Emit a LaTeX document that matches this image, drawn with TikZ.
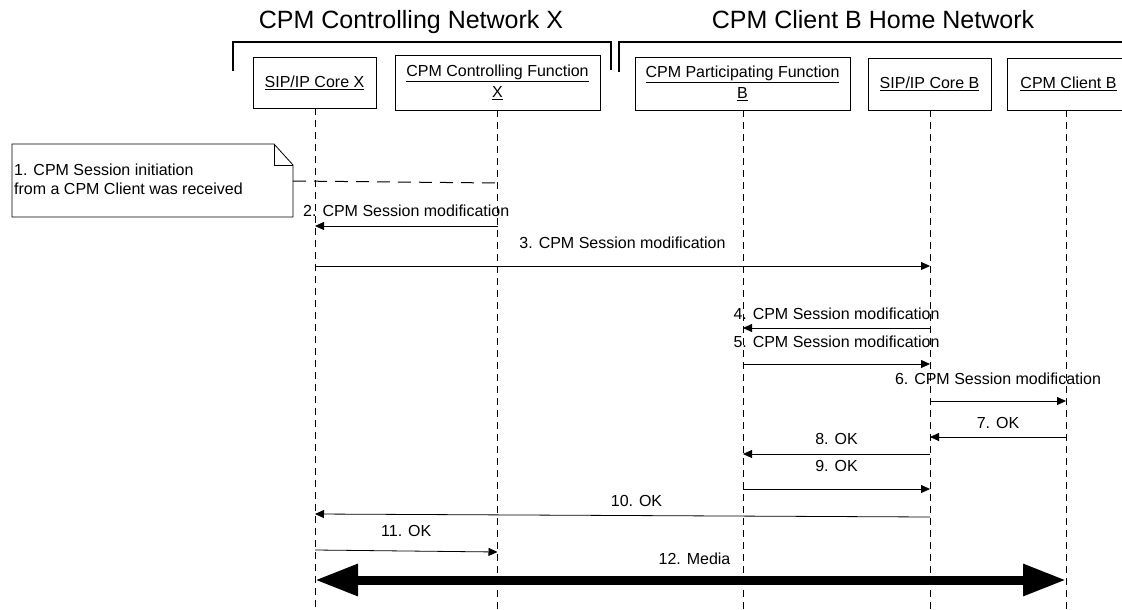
\documentclass[tikz,border=0pt]{standalone}
\usepackage{fontspec}
\setmainfont{Liberation Sans}
\usetikzlibrary{arrows.meta}
\begin{document}
\begin{tikzpicture}[x=1pt,y=-1pt,
  ent/.style={draw, line width=0.8pt, align=center, font=\fontsize{16}{21}\selectfont, inner sep=0pt},
  life/.style={line width=0.6pt, dash pattern=on 7pt off 5pt},
  msg/.style={line width=0.8pt, -{Triangle[length=9pt,width=8pt]}},
  lbl/.style={font=\fontsize{16}{19}\selectfont, anchor=base, inner sep=0pt},
  notetxt/.style={font=\fontsize{16}{19}\selectfont, anchor=base west, inner sep=0pt},
  brk/.style={line width=1.3pt},
  ttl/.style={font=\fontsize{25}{30}\selectfont, anchor=base, inner sep=0pt},
  media/.style={line width=9pt, {Triangle[length=43pt,width=30pt]}-{Triangle[length=43pt,width=30pt]}}]
\useasboundingbox (0,0) rectangle (1122,610);

% titles and brackets
\node[ttl] (t1) at (411,29) {CPM Controlling Network X};
\node[ttl] (t2) at (873,29) {CPM Client B Home Network};
\draw[brk] (233,71) -- (233,42) -- (611,42) -- (611,70);
\draw[brk] (619,72) -- (619,42) -- (1130,42);

% entities
\node[ent, minimum width=123pt, minimum height=51pt] (sx) at (314.5,82.5) {\underline{SIP/IP Core X}};
\node[ent, minimum width=205pt, minimum height=55pt] (cf) at (497.5,82.5) {\underline{CPM Controlling Function}\\\underline{X}};
\node[ent, minimum width=215pt, minimum height=53pt] (pf) at (742.5,83.5) {\underline{CPM Participating Function}\\\underline{B}};
\node[ent, minimum width=123pt, minimum height=52pt] (sb) at (929.5,84) {\underline{SIP/IP Core B}};
\node[ent, minimum width=123pt, minimum height=52pt] (cb) at (1068.5,84) {\underline{CPM Client B}};

% lifeline x positions
\coordinate (xsx) at (315,108);
\coordinate (xcf) at (497.5,110);
\coordinate (xpf) at (743,110);
\coordinate (xsb) at (930,110);
\coordinate (xcb) at (1066,110);

\foreach \c in {xsx,xcf,xpf,xsb,xcb}
  \draw[life] (\c) -- (\c |- 0,610);

% note
\draw[line width=0.8pt, fill=white] (12,144) -- (274,144) -- (293,165) -- (293,217) -- (12,217) -- cycle;
\draw[line width=0.8pt] (274,144) -- (274,165) -- (293,165);
\node[notetxt] (n1) at (14,175) {1. CPM Session initiation};
\node[notetxt] (n2) at (14,194) {from a CPM Client was received};
\coordinate (noteR) at (293,181);
\draw[line width=1pt, dash pattern=on 13pt off 8pt] (noteR) -- (xcf |- 0,183);

% messages
\draw[msg] (xcf |- 0,226) -- (xsx |- 0,226) node[lbl, midway, yshift=10pt] (m2) {2. CPM Session modification};
\draw[msg] (xsx |- 0,266) -- (xsb |- 0,266) node[lbl, midway, yshift=18pt] (m3) {3. CPM Session modification};
\draw[msg] (xsb |- 0,328) -- (xpf |- 0,328) node[lbl, midway, yshift=9pt] (m4) {4. CPM Session modification};
\draw[msg] (xpf |- 0,364) -- (xsb |- 0,364) node[lbl, midway, yshift=17pt] (m5) {5. CPM Session modification};
\draw[msg] (xsb |- 0,401) -- (xcb |- 0,401) node[lbl, midway, yshift=17pt] (m6) {6. CPM Session modification};
\draw[msg] (xcb |- 0,437) -- (xsb |- 0,437) node[lbl, midway, yshift=9pt] (m7) {7. OK};
\draw[msg] (xsb |- 0,454) -- (xpf |- 0,454) node[lbl, midway, yshift=10pt] (m8) {8. OK};
\draw[msg] (xpf |- 0,489) -- (xsb |- 0,489) node[lbl, midway, yshift=18pt] (m9) {9. OK};
\draw[msg] (xsb |- 0,517) -- (xsx |- 0,514) node[lbl, midway, yshift=9pt, xshift=14pt] (m10) {10. OK};
\draw[msg] (xsx |- 0,550) -- (xcf |- 0,552) node[lbl, midway, yshift=15pt] (m11) {11. OK};
\draw[media] (xsx |- 0,580) -- (xcb |- 0,580) node[lbl, midway, yshift=16pt, xshift=4pt] (m12) {12. Media};
\end{tikzpicture}
\end{document}
